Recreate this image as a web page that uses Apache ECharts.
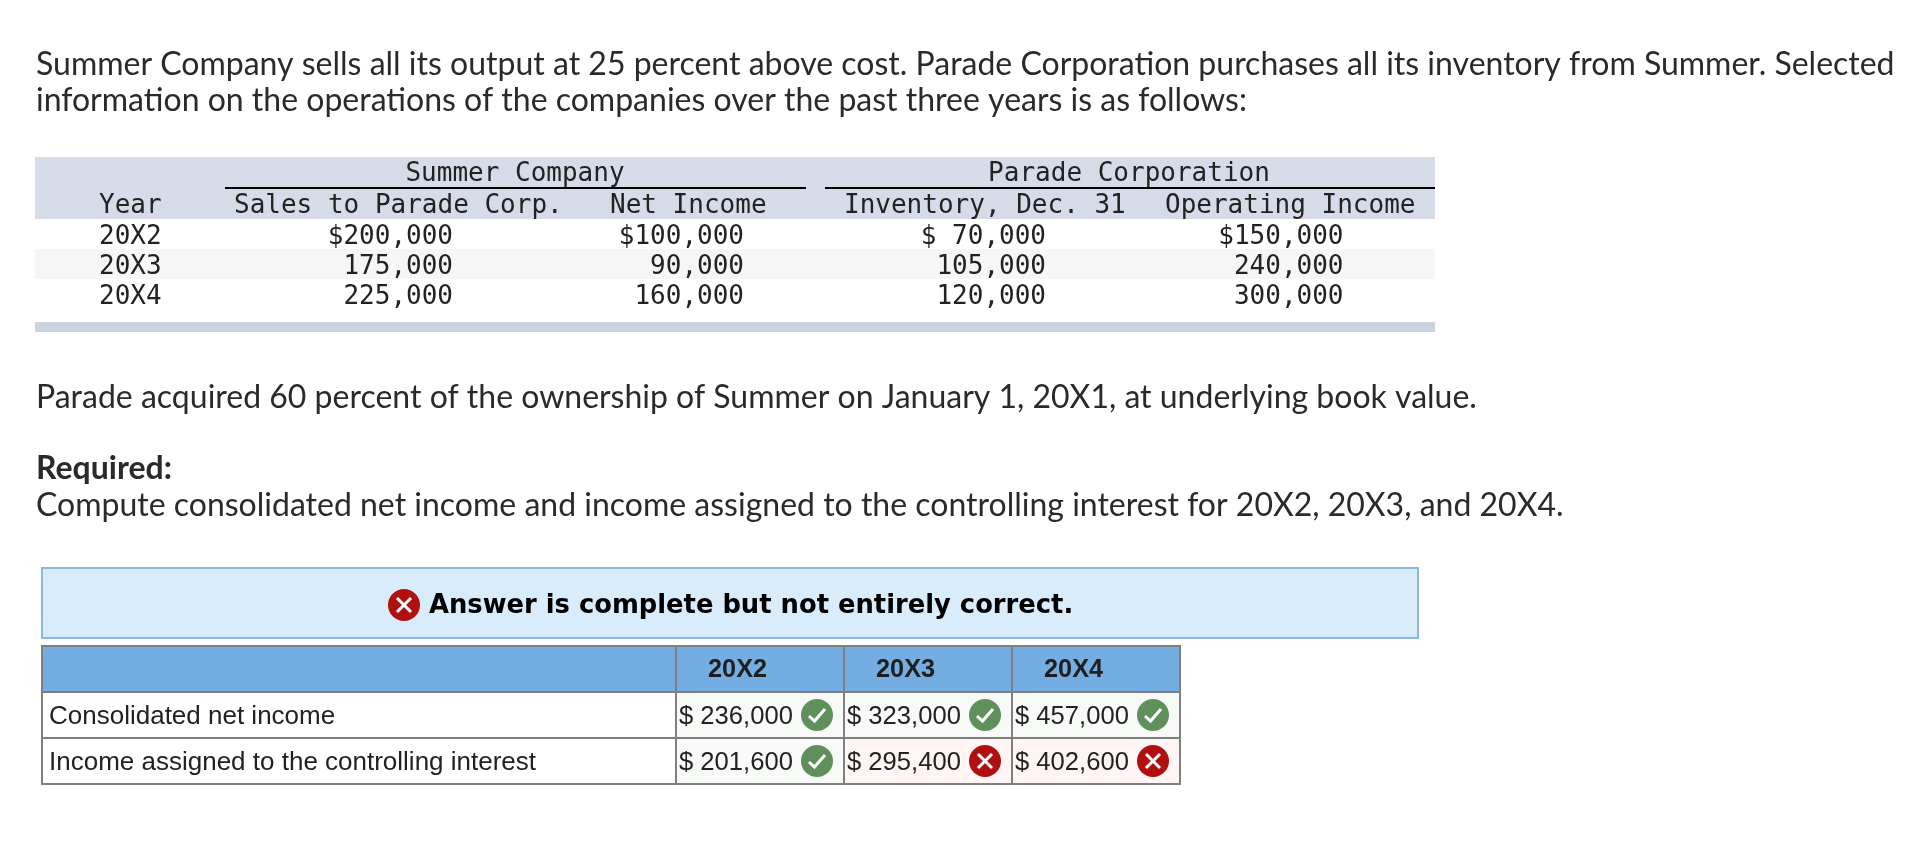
<!DOCTYPE html>
<html><head><meta charset="utf-8">
<style>html,body{margin:0;padding:0;background:#fff}#c{width:1932px;height:857px}</style>
<script src="https://cdn.jsdelivr.net/npm/echarts@6/dist/echarts.min.js"></script>
</head><body><div id="c"></div>
<script>
// ---- text content ----
const introLines = [
  'Summer Company sells all its output at 25 percent above cost. Parade Corporation purchases all its inventory from Summer. Selected',
  'information on the operations of the companies over the past three years is as follows:'
];
const acquiredText = 'Parade acquired 60 percent of the ownership of Summer on January 1, 20X1, at underlying book value.';
const requiredLabel = 'Required:';
const requiredText = 'Compute consolidated net income and income assigned to the controlling interest for 20X2, 20X3, and 20X4.';
const verdictText = 'Answer is complete but not entirely correct.';
// ---- given table ----
const groupHeads = ['Summer Company', 'Parade Corporation'];
const columnHeads = ['Year', 'Sales to Parade Corp.', 'Net Income', 'Inventory, Dec. 31', 'Operating Income'];
const years = ['20X2', '20X3', '20X4'];
const salesToParade = ['$200,000', '175,000', '225,000'];
const summerNetIncome = ['$100,000', '90,000', '160,000'];
const paradeInventory = ['$ 70,000', '105,000', '120,000'];
const paradeOperatingIncome = ['$150,000', '240,000', '300,000'];
// ---- answer table ----
const answerRows = ['Consolidated net income', 'Income assigned to the controlling interest'];
const consolidatedNetIncome = ['$ 236,000', '$ 323,000', '$ 457,000'];
const controllingInterest = ['$ 201,600', '$ 295,400', '$ 402,600'];
const consolidatedCorrect = [true, true, true];
const controllingCorrect = [true, false, false];

// ---- layout ----
const els = [];
const SANS = 'Lato', MONO = '"DejaVu Sans Mono"', ARIAL = '"Liberation Sans"', VERD = '"DejaVu Sans"';
function rect(x, y, w, h, fill, stroke, lw) {
  els.push({type:'rect', silent:true, shape:{x, y, width:w, height:h},
    style:{fill:fill||'transparent', stroke:stroke||null, lineWidth:lw||0}});
}
function text(t, x, base, size, family, opts) {
  opts = opts || {};
  els.push({type:'text', silent:true, x, y: base - size*(opts.k==null?0.36:opts.k),
    style:{text:t, fill:opts.fill||'#222', align:opts.align||'left', verticalAlign:'middle',
      font:(opts.weight||'normal')+' '+size+'px '+family}});
}
function icon(cx, cy, ok) {
  els.push({type:'circle', silent:true, shape:{cx, cy, r:16}, style:{fill: ok ? '#5f8f5b' : '#b01010'}});
  if (ok) {
    els.push({type:'polyline', silent:true, shape:{points:[[cx-8,cy+1],[cx-2.5,cy+6],[cx+8,cy-6]]},
      style:{stroke:'#fff', lineWidth:3, fill:null}});
  } else {
    els.push({type:'line', silent:true, shape:{x1:cx-7,y1:cy-7,x2:cx+7,y2:cy+7}, style:{stroke:'#fff', lineWidth:3}});
    els.push({type:'line', silent:true, shape:{x1:cx+7,y1:cy-7,x2:cx-7,y2:cy+7}, style:{stroke:'#fff', lineWidth:3}});
  }
}

// intro
const BODY = 32;
text(introLines[0], 36, 76, BODY, SANS, {fill:'#2a2a2a'});
text(introLines[1], 36, 112, BODY, SANS, {fill:'#2a2a2a'});

// given table bands
const bandX = 35, bandW = 1400;
rect(bandX, 157, bandW, 62, '#d6dbe8');
rect(bandX, 249, bandW, 30, '#f6f6f6');
rect(bandX, 322, bandW, 10, '#ccd3e0');
rect(225, 187, 581, 2, '#000');
rect(825, 187, 610, 2, '#000');
const M = 26, MK = 0.21;
text(groupHeads[0], 515, 180, M, MONO, {align:'center', k:MK});
text(groupHeads[1], 1129, 180, M, MONO, {align:'center', k:MK});
const headX = [99, 234, 610, 844, 1165];
columnHeads.forEach((h,i)=>text(h, headX[i], 212, M, MONO, {k:MK}));
const rowBase = [243, 273, 303];
const numCols = [[salesToParade,453],[summerNetIncome,744],[paradeInventory,1046],[paradeOperatingIncome,1343.5]];
years.forEach((y,r)=>{
  text(y, 99, rowBase[r], M, MONO, {k:MK});
  numCols.forEach(([arr,right])=>text(arr[r], right, rowBase[r], M, MONO, {align:'right', k:MK}));
});

// body text
text(acquiredText, 36, 409, BODY, SANS, {fill:'#2a2a2a'});
text(requiredLabel, 36, 480, BODY, SANS, {weight:'bold', fill:'#2a2a2a'});
text(requiredText, 36, 517, BODY, SANS, {fill:'#2a2a2a'});

// verdict box
rect(42, 568, 1376, 70, '#d9ecfb', '#8ab8de', 2);
icon(404, 605, false);
text(verdictText, 429, 612, 25.8, VERD, {weight:'bold', fill:'#000', k:0.22});

// answer table
const cols = [42, 676, 844, 1012, 1180], rowsY = [646, 692, 738, 784];
rect(cols[0], rowsY[0], cols[4]-cols[0], rowsY[1]-rowsY[0], '#74ade1');
const answers = [[consolidatedNetIncome, consolidatedCorrect],[controllingInterest, controllingCorrect]];
years.forEach((y,c)=>{
  text(y, cols[c+1]+32, 678, 25.3, ARIAL, {weight:'bold', fill:'#1f1f1f', k:0.32});
});
answers.forEach(([vals, oks], r)=>{
  text(answerRows[r], 49, 723+46*r, 26, ARIAL, {k:0.25});
  vals.forEach((v,c)=>{
    rect(cols[c+1], rowsY[r+1], 168, 46, oks[c] ? '#f7faf6' : '#fff5f4');
    text(v, cols[c+1]+3, 725+46*r, 25.6, ARIAL, {k:0.3});
    icon(cols[c+1]+141, 715+46*r, oks[c]);
  });
});
rowsY.forEach(y=>rect(cols[0]-1, y-1, cols[4]-cols[0]+2, 2, '#7f7f7f'));
cols.forEach(x=>rect(x-1, rowsY[0]-1, 2, rowsY[3]-rowsY[0]+2, '#7f7f7f'));

const chart = echarts.init(document.getElementById('c'), null, {renderer:'canvas'});
chart.setOption({animation:false, backgroundColor:'#fff', graphic:{elements:els}});
</script></body></html>
